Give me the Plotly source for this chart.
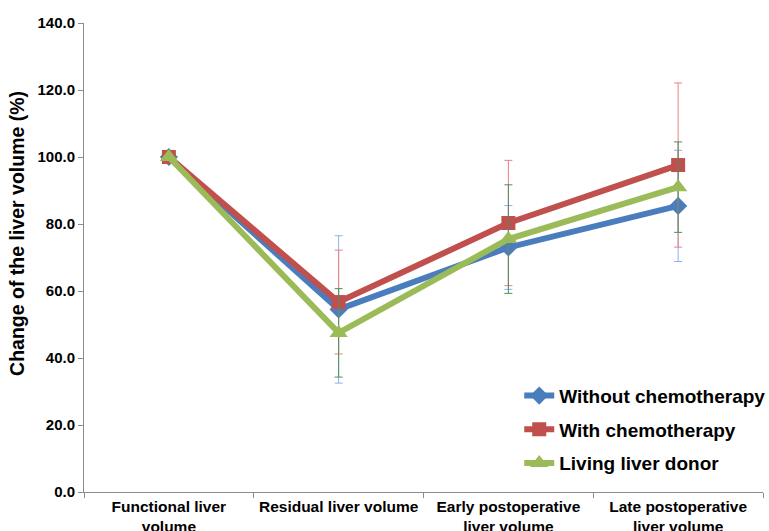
import plotly.graph_objects as go

categories = ["Functional liver<br>volume", "Residual liver volume",
              "Early postoperative<br>liver volume", "Late postoperative<br>liver volume"]
series_names = ["Without chemotherapy", "With chemotherapy", "Living liver donor"]
without_chemo = [100.0, 54.5, 73.0, 85.4]
without_chemo_err = [0.0, 22.0, 12.5, 16.6]
with_chemo = [100.0, 56.7, 80.3, 97.6]
with_chemo_err = [0.0, 15.5, 18.7, 24.5]
donor = [100.0, 47.5, 75.5, 91.0]
donor_err = [0.0, 13.2, 16.2, 13.5]
y_ticks = [0, 20, 40, 60, 80, 100, 120, 140]
y_title = "Change of the liver volume (%)"

FONT = "Liberation Sans, Arial, Helvetica, sans-serif"
x = list(range(len(categories)))

styles = [
    dict(color="#4A7DBD", err="#8DB0F0", symbol="diamond", size=14),
    dict(color="#C0504D", err="#F07F80", symbol="square", size=14),
    dict(color="#9BBB59", err="#4E8F5A", symbol="triangle-up", size=16),
]
data = [(without_chemo, without_chemo_err), (with_chemo, with_chemo_err), (donor, donor_err)]

fig = go.Figure()
for i, (name, (vals, errs), st) in enumerate(zip(series_names, data, styles)):
    fig.add_trace(go.Scatter(
        x=x, y=vals, name=name, mode="lines+markers",
        line=dict(color=st["color"], width=6),
        marker=dict(symbol=st["symbol"], size=st["size"], color=st["color"]),
        error_y=dict(type="data", array=errs, visible=True, color=st["err"],
                     thickness=1, width=4),
        legendgroup=f"g{i}",
    ))

fig.add_annotation(
    text=y_title, textangle=-90, showarrow=False,
    xref="paper", yref="paper", x=-0.099, y=0.552, xanchor="center", yanchor="middle",
    font=dict(size=19.5, family=FONT, weight="bold", color="black"),
)

fig.update_layout(
    width=769, height=531,
    margin=dict(l=84, r=6, t=23, b=39, autoexpand=False),
    plot_bgcolor="white", paper_bgcolor="white",
    font=dict(family=FONT, size=15, color="black", weight="bold"),
    showlegend=True,
    legend=dict(x=0.641, y=0.2457, xanchor="left", yanchor="top",
                font=dict(size=19, family=FONT, weight="bold", color="black"),
                bgcolor="rgba(0,0,0,0)", tracegroupgap=6),
    xaxis=dict(
        range=[-0.5, 3.5], tickvals=x, ticktext=categories,
        ticks="", showline=True, linecolor="#8c8c8c", linewidth=1,
        showgrid=False, zeroline=False, automargin=False,
        tickfont=dict(size=15.5, family=FONT, weight="bold", color="black"),
        minor=dict(tickvals=[-0.5, 0.5, 1.5, 2.5, 3.5], ticks="outside",
                   ticklen=5, tickcolor="#8c8c8c", showgrid=False),
    ),
    yaxis=dict(
        range=[0, 140], tickvals=y_ticks, tickformat=".1f",
        ticks="outside", ticklen=5, tickcolor="#8c8c8c",
        showline=True, linecolor="#8c8c8c", linewidth=1,
        showgrid=False, zeroline=False, automargin=False,
        tickfont=dict(size=15, family=FONT, weight="bold", color="black"),
    ),
)

fig.write_html("out.html", config={"displayModeBar": False},
               post_script="document.body.style.margin='0';document.body.style.overflow='hidden';")
